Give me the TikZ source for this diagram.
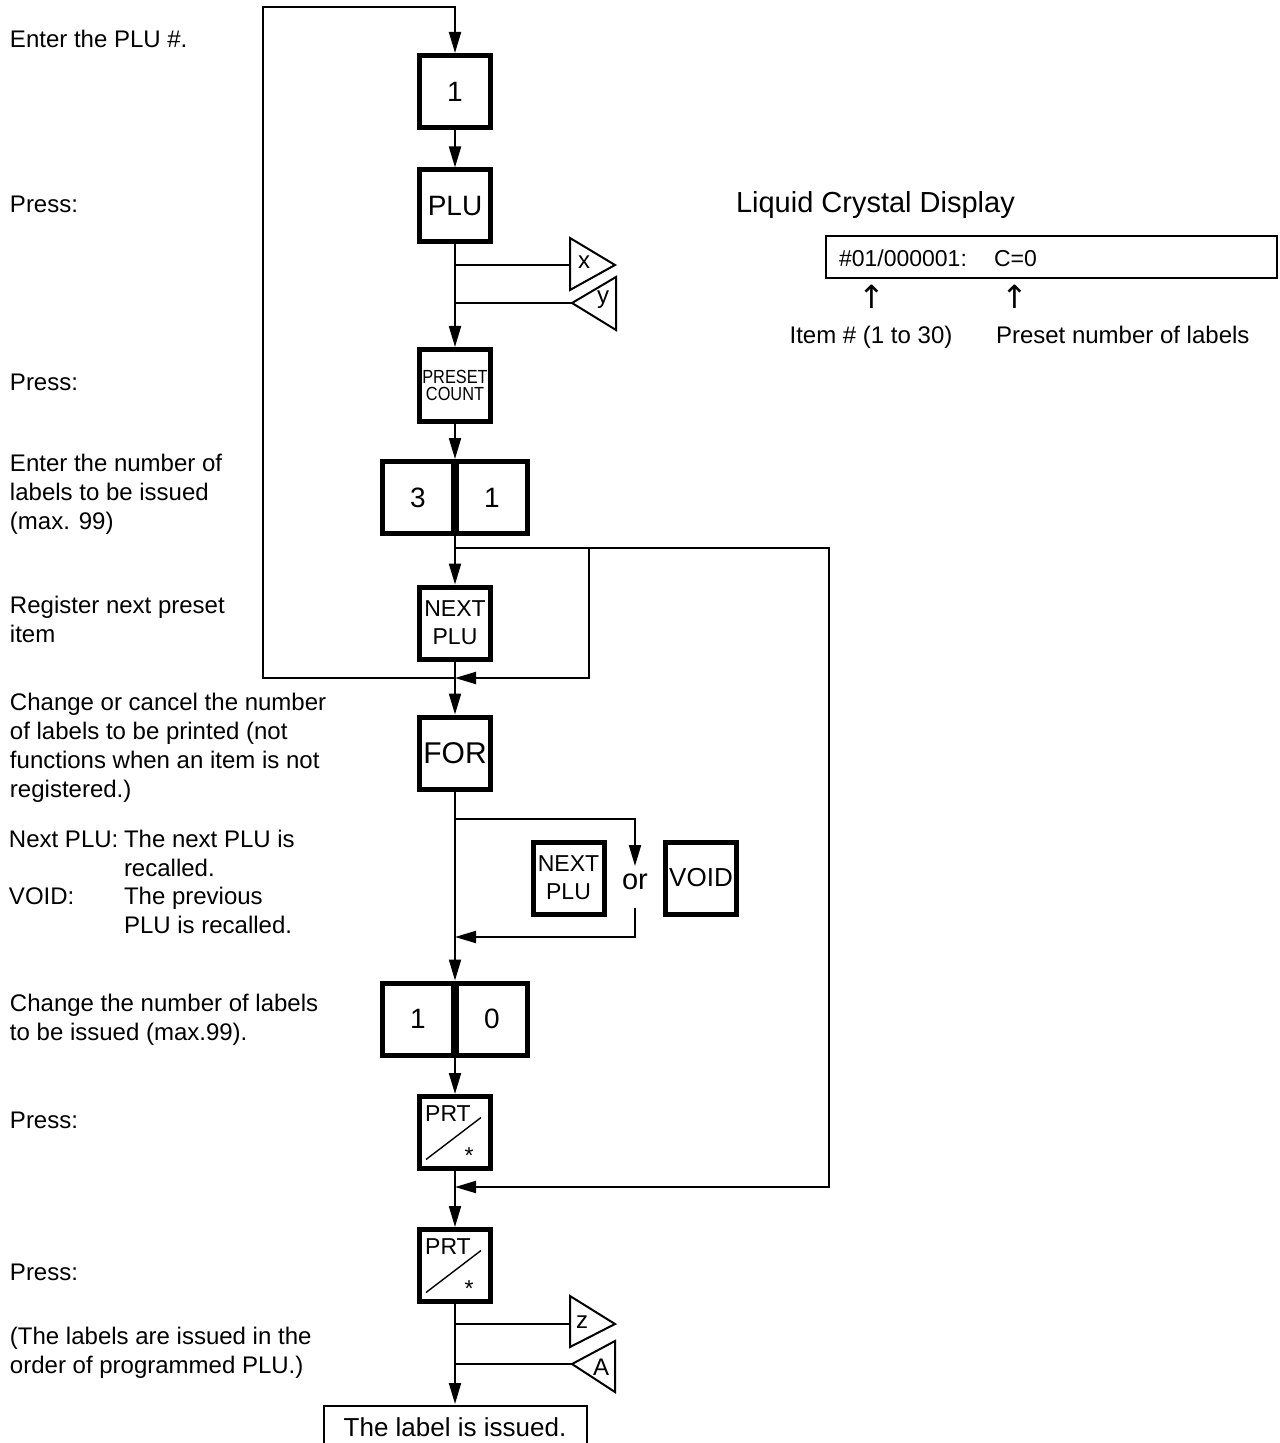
\documentclass[tikz,border=0pt]{standalone}
\usepackage{fontspec}
\setmainfont{Liberation Sans}
\newfontfamily\arrowfont{DejaVu Sans}
\newfontfamily\narrowfont[FakeStretch=0.86]{Liberation Sans}
\usetikzlibrary{arrows.meta}
\begin{document}
\begin{tikzpicture}[x=0.5pt,y=-0.5pt,line width=1pt,
  arr/.style={-{Triangle[length=10.5pt,width=6pt]}},
  key/.style={draw,line width=2.5pt,minimum width=35.5pt,minimum height=36pt,inner sep=0pt,align=center},
  txt/.style={anchor=base west,inner sep=0pt,align=left,font=\fontsize{12}{14.5}\selectfont},
  lbl/.style={inner sep=0pt,font=\fontsize{12}{14}\selectfont},
  big/.style={font=\fontsize{14}{16}\selectfont},
  mid/.style={font=\fontsize{11.5}{14}\selectfont},
  tri/.style={line width=1pt,line join=miter}]
\useasboundingbox (0,0) rectangle (1279,1443);

% ---------- keys ----------
\node[key,big] (k1) at (455,91.5) {1};
\node[key,font=\fontsize{14}{16}\selectfont] (kplu) at (455,206) {PLU};
\node[key,font=\narrowfont\fontsize{9.5}{8.6}\selectfont] (kpre) at (455,385.5) {PRESET\\COUNT};
\node[key,big] (k3) at (418,497.5) {3};
\node[key,big] (k31) at (492,497.5) {1};
\node[key,mid] (knext) at (455,623) {NEXT\\PLU};
\node[key,font=\fontsize{15}{17}\selectfont] (kfor) at (455,753) {FOR};
\node[key,mid] (knext2) at (568.5,878) {NEXT\\PLU};
\node[inner sep=0pt,font=\fontsize{14.5}{16}\selectfont] (or) at (635,882) {or};
\node[key,font=\fontsize{13}{16}\selectfont] (kvoid) at (701,878) {VOID};
\node[key,big] (k10a) at (418,1019) {1};
\node[key,big] (k10b) at (492,1019) {0};
\node[key] (prt1) at (455,1132.5) {};
\node[key] (prt2) at (455,1265.5) {};
\foreach \p in {prt1,prt2}{
  \node[inner sep=0pt,mid] (\p t) at ([shift={(-7,-19)}]\p.center) {PRT};
  \draw[line width=0.7pt] ([shift={(-29,27)}]\p.center) -- ([shift={(26,-15)}]\p.center);
  \node[inner sep=0pt,anchor=base,mid] (\p s) at ([shift={(14,31)}]\p.center) {*};
}
\node[inner sep=0pt,minimum width=132pt,minimum height=22pt,font=\fontsize{13}{16}\selectfont] (res) at (455,1427) {The label is issued.};
\draw (324,1450) |- (587,1406) -- (587,1450);

% ---------- junction coordinates ----------
\coordinate (jx) at (455,265);
\coordinate (jy) at (455,303);
\coordinate (jA) at (455,548);
\coordinate (rA) at (589,678);
\coordinate (jL) at (455,678);
\coordinate (jF) at (455,819);
\coordinate (orN) at (635,866);
\coordinate (orS) at (635,908);
\coordinate (jG) at (455,937);
\coordinate (rB) at (829,1187);
\coordinate (jB) at (455,1187);
\coordinate (jz) at (455,1324);
\coordinate (jAa) at (455,1364);

% ---------- triangles ----------
\draw[tri] (570,238) -- (615,265) -- (570,290) -- cycle;
\coordinate (xIn) at (570,265);
\node[lbl] (lx) at (584,262) {x};
\draw[tri] (572,303) coordinate (yIn) -- (616,277) -- (616,330) -- cycle;
\node[lbl] (ly) at (603,300) {y};
\draw[tri] (570,1296) -- (615,1324) -- (570,1347) -- cycle;
\coordinate (zIn) at (570,1324);
\node[lbl] (lz) at (582,1322) {z};
\draw[tri] (572,1364) coordinate (AIn) -- (615,1341) -- (615,1392) -- cycle;
\node[lbl] (lA) at (601,1367) {A};

% ---------- connectors ----------
\draw[arr] (jL) -| (263,7) -| (k1.north);
\draw[arr] (k1) -- (kplu);
\draw[arr] (kplu) -- (kpre);
\draw (jx) -- (xIn);
\draw (jy) -- (yIn);
\draw[arr] (kpre) -- (kpre |- k3.north);
\draw[arr] (kpre |- k3.south) -- (knext);
\draw[arr] (jA) -| (rA) -- (jL);
\draw[arr] (jA) -| (rB) -- (jB);
\draw[arr] (knext) -- (kfor);
\draw[arr] (kfor) -- (kfor |- k10a.north);
\draw[arr] (jF) -| (orN);
\draw[arr] (orS) |- (jG);
\draw[arr] (kfor |- k10a.south) -- (prt1);
\draw[arr] (prt1) -- (prt2);
\draw[arr] (prt2) -- (res.north);
\draw (jz) -- (zIn);
\draw (jAa) -- (AIn);

% ---------- left texts (base = last line) ----------
\node[txt] (t1) at (9,48) {Enter the PLU \#.};
\node[txt] (t2) at (9,213) {Press:};
\node[txt] (t3) at (9,391) {Press:};
\node[txt] (t4) at (9,529) {Enter the number of\\labels to be issued\\(max. 99)};
\node[txt] (t5) at (9,642) {Register next preset\\item};
\node[txt] (t6) at (9,797) {Change or cancel the number\\of labels to be printed (not\\functions when an item is not\\registered.)};
\node[txt] (t7a) at (8,847) {Next PLU:};
\node[txt] (t7b) at (123,876) {The next PLU is\\recalled.};
\node[txt] (t7c) at (8,904) {VOID:};
\node[txt] (t7d) at (123,933) {The previous\\PLU is recalled.};
\node[txt] (t8) at (9,1040) {Change the number of labels\\to be issued (max.99).};
\node[txt] (t9) at (9,1128) {Press:};
\node[txt] (t10) at (9,1280) {Press:};
\node[txt] (t11) at (9,1373) {(The labels are issued in the\\order of programmed PLU.)};

% ---------- LCD ----------
\node[txt,font=\fontsize{14.5}{17}\selectfont] (lcdt) at (735,213) {Liquid Crystal Display};
\node[draw,line width=1pt,minimum width=225.5pt,minimum height=21pt,inner sep=0pt] (lcd) at (1051.5,257) {};
\node[txt,font=\fontsize{11.5}{14}\selectfont] (lcd1) at (838,267) {\#01/000001:};
\node[txt,font=\fontsize{11.5}{14}\selectfont] (lcd2) at (993,267) {C=0};
\node[inner sep=0pt,font=\arrowfont\fontsize{16}{18}\selectfont] (up1) at (872,297) {↑};
\node[inner sep=0pt,font=\arrowfont\fontsize{16}{18}\selectfont] (up2) at (1015,297) {↑};
\node[txt,anchor=base] (it) at (871,344) {Item \# (1 to 30)};
\node[txt] (pn) at (995,344) {Preset number of labels};
\end{tikzpicture}
\end{document}
